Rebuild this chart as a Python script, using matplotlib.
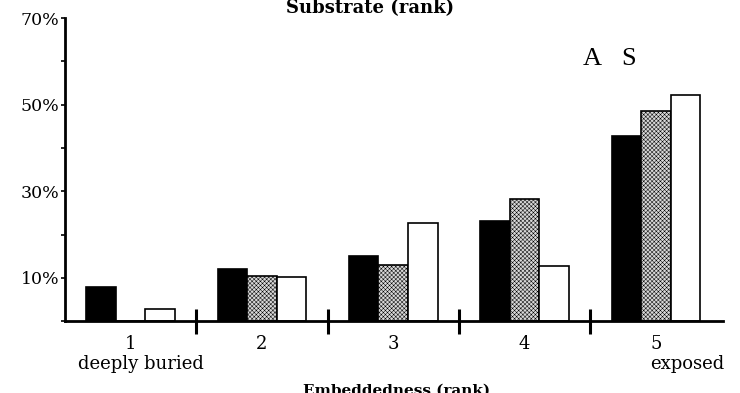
import numpy as np
import matplotlib.pyplot as plt

# percentage of residues per embeddedness rank, three substrate classes
ranks = [1, 2, 3, 4, 5]
rank_labels = ['1', '2', '3', '4', '5']
solid_vals = [7.9, 12.0, 15.0, 23.2, 42.7]
hatched_vals = [0.0, 10.5, 12.9, 28.2, 48.5]
open_vals = [2.8, 10.1, 22.7, 12.7, 52.2]

plt.rcParams['hatch.linewidth'] = 0.35
serif = 'DejaVu Serif'

fig = plt.figure(figsize=(7.4, 3.93), dpi=100)
ax = fig.add_axes([0.0878, 0.183, 0.889, 0.771])

x = np.array(ranks)
w = 0.225
ax.bar(x - w, solid_vals, w, color='black', edgecolor='black', linewidth=1.2)
ax.bar(x, hatched_vals, w, color='#d8d8d8', edgecolor='black', hatch='xxxxxxxx', linewidth=1.2)
ax.bar(x + w, open_vals, w, color='white', edgecolor='black', linewidth=1.2)

ax.set_xlim(0.5, 5.51)
ax.set_ylim(0, 70)

for s in ['top', 'right']:
    ax.spines[s].set_visible(False)
ax.spines['left'].set_linewidth(2)
ax.spines['bottom'].set_linewidth(2)

# y ticks: labelled every 20%, plain ticks in between
ax.set_yticks([10, 30, 50, 70])
ax.set_yticklabels(['10%', '30%', '50%', '70%'], family=serif, fontsize=12.5)
ax.set_yticks([0, 20, 40, 60], minor=True)
ax.tick_params(axis='y', which='both', direction='out', length=3, width=1.2, pad=1)

# group separators on the x axis
ax.set_xticks([1.5, 2.5, 3.5, 4.5])
ax.set_xticklabels([])
ax.tick_params(axis='x', which='major', direction='inout', length=18, width=2.2)
for r, lab in zip(ranks, rank_labels):
    ax.text(r, -3.3, lab, ha='center', va='top', family=serif, fontsize=13)
ax.text(1.08, -7.8, 'deeply buried', ha='center', va='top', family=serif, fontsize=13)
ax.text(5.24, -7.8, 'exposed', ha='center', va='top', family=serif, fontsize=13)

fig.text(0.5, 0.967, 'Substrate (rank)', ha='center', va='baseline',
         family=serif, fontweight='bold', fontsize=13)
fig.text(0.536, 0.006, 'Embeddedness (rank)', ha='center', va='center',
         family=serif, fontweight='bold', fontsize=11)

ax.text(592, 393 - 65, 'A', transform=None, ha='center', va='baseline',
        family='Liberation Serif', fontsize=19)
ax.text(629, 393 - 65, 'S', transform=None, ha='center', va='baseline',
        family='Liberation Serif', fontsize=19)

fig.savefig('out.png', dpi=100)
